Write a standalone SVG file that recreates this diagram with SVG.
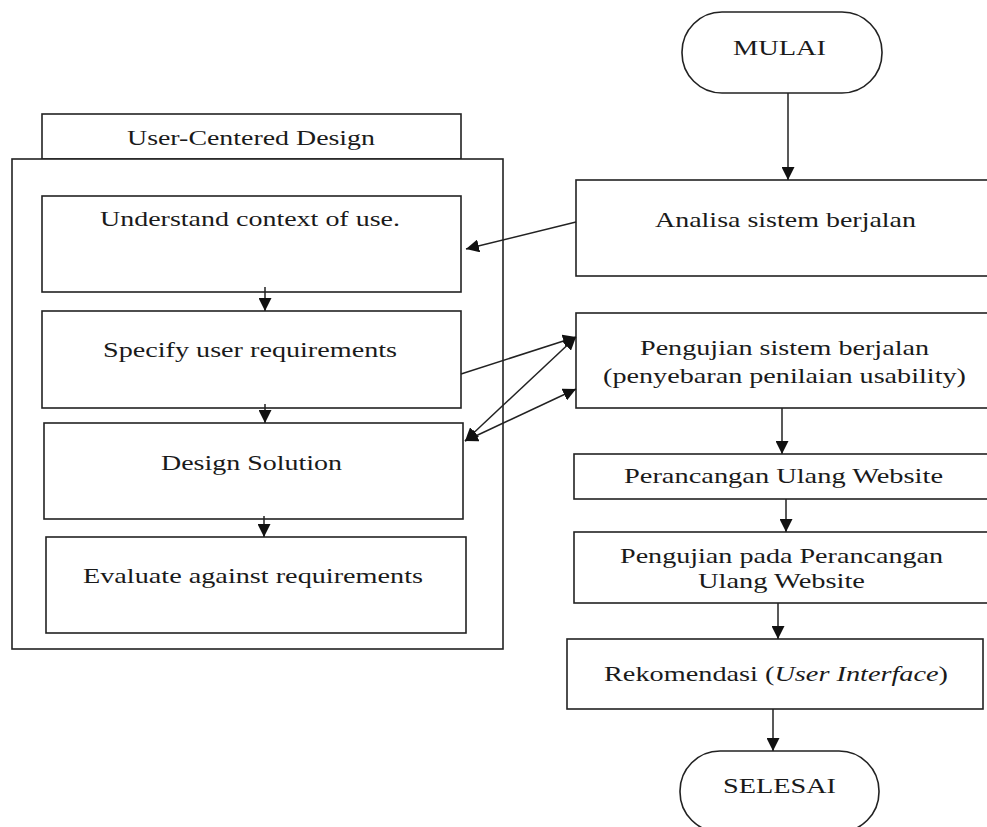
<svg xmlns="http://www.w3.org/2000/svg" width="987" height="827" viewBox="0 0 987 827">
<defs>
<marker id="ah" viewBox="0 0 10 10" refX="10" refY="5" markerWidth="13" markerHeight="13" markerUnits="userSpaceOnUse" orient="auto-start-reverse">
<path d="M0,0 L10,5 L0,10 Z" fill="#111"/>
</marker>
<style>
.b{fill:#fff;stroke:#222;stroke-width:1.6}
.t{font-family:"Liberation Serif","Times New Roman",serif;font-size:22px;fill:#1a1a1a}
.c{stroke:#222;stroke-width:1.5;fill:none}
</style>
</defs>
<rect width="987" height="827" fill="#fff"/>

<g id="ucd">
<rect class="b" x="42" y="114" width="419" height="45"/>
<rect class="b" x="12" y="159" width="491" height="490"/>
<text class="t" x="127" y="145" textLength="248" lengthAdjust="spacingAndGlyphs">User-Centered Design</text>
</g>
<g id="understand">
<rect class="b" x="42" y="196" width="419" height="96"/>
<text class="t" x="100" y="226" textLength="300" lengthAdjust="spacingAndGlyphs">Understand context of use.</text>
</g>
<g id="specify">
<rect class="b" x="42" y="311" width="419" height="97"/>
<text class="t" x="103" y="357" textLength="294" lengthAdjust="spacingAndGlyphs">Specify user requirements</text>
</g>
<g id="design">
<rect class="b" x="44" y="423" width="419" height="96"/>
<text class="t" x="161" y="470" textLength="181" lengthAdjust="spacingAndGlyphs">Design Solution</text>
</g>
<g id="evaluate">
<rect class="b" x="46" y="537" width="420" height="96"/>
<text class="t" x="83" y="583" textLength="340" lengthAdjust="spacingAndGlyphs">Evaluate against requirements</text>
</g>

<g id="mulai">
<rect class="b" x="682" y="12" width="200" height="81" rx="40" ry="40"/>
<text class="t" x="733" y="55" textLength="93" lengthAdjust="spacingAndGlyphs">MULAI</text>
</g>
<g id="analisa">
<rect class="b" x="576" y="180" width="420" height="96"/>
<text class="t" x="655" y="227" textLength="261" lengthAdjust="spacingAndGlyphs">Analisa sistem berjalan</text>
</g>
<g id="pengujian">
<rect class="b" x="576" y="313" width="420" height="95"/>
<text class="t" x="640" y="355" textLength="289" lengthAdjust="spacingAndGlyphs">Pengujian sistem berjalan</text>
<text class="t" x="603" y="383" textLength="363" lengthAdjust="spacingAndGlyphs">(penyebaran penilaian usability)</text>
</g>
<g id="perancangan">
<rect class="b" x="574" y="454" width="422" height="45"/>
<text class="t" x="624" y="483" textLength="319" lengthAdjust="spacingAndGlyphs">Perancangan Ulang Website</text>
</g>
<g id="pengujian-pada">
<rect class="b" x="574" y="532" width="422" height="71"/>
<text class="t" x="620" y="563" textLength="323" lengthAdjust="spacingAndGlyphs">Pengujian pada Perancangan</text>
<text class="t" x="698" y="588" textLength="167" lengthAdjust="spacingAndGlyphs">Ulang Website</text>
</g>
<g id="rekomendasi">
<rect class="b" x="567" y="639" width="416" height="70"/>
<text class="t" x="604" y="681" textLength="344" lengthAdjust="spacingAndGlyphs">Rekomendasi (<tspan font-style="italic">User Interface</tspan>)</text>
</g>
<g id="selesai">
<rect class="b" x="680" y="751" width="199" height="81" rx="40" ry="40"/>
<text class="t" x="723" y="793" textLength="113" lengthAdjust="spacingAndGlyphs">SELESAI</text>
</g>

<g id="connectors">
<line class="c" x1="265" y1="287" x2="265" y2="311" marker-end="url(#ah)"/>
<line class="c" x1="265" y1="404" x2="265" y2="423" marker-end="url(#ah)"/>
<line class="c" x1="264" y1="516" x2="264" y2="537" marker-end="url(#ah)"/>
<line class="c" x1="788" y1="93" x2="788" y2="180" marker-end="url(#ah)"/>
<line class="c" x1="576" y1="222" x2="466" y2="249" marker-end="url(#ah)"/>
<line class="c" x1="461" y1="374" x2="576" y2="337" marker-end="url(#ah)"/>
<line class="c" x1="465" y1="441" x2="576" y2="337" marker-start="url(#ah)" marker-end="url(#ah)"/>
<line class="c" x1="465" y1="441" x2="576" y2="389" marker-start="url(#ah)" marker-end="url(#ah)"/>
<line class="c" x1="782" y1="408" x2="782" y2="454" marker-end="url(#ah)"/>
<line class="c" x1="786" y1="499" x2="786" y2="532" marker-end="url(#ah)"/>
<line class="c" x1="778" y1="603" x2="778" y2="639" marker-end="url(#ah)"/>
<line class="c" x1="773" y1="709" x2="773" y2="751" marker-end="url(#ah)"/>
</g>
</svg>
